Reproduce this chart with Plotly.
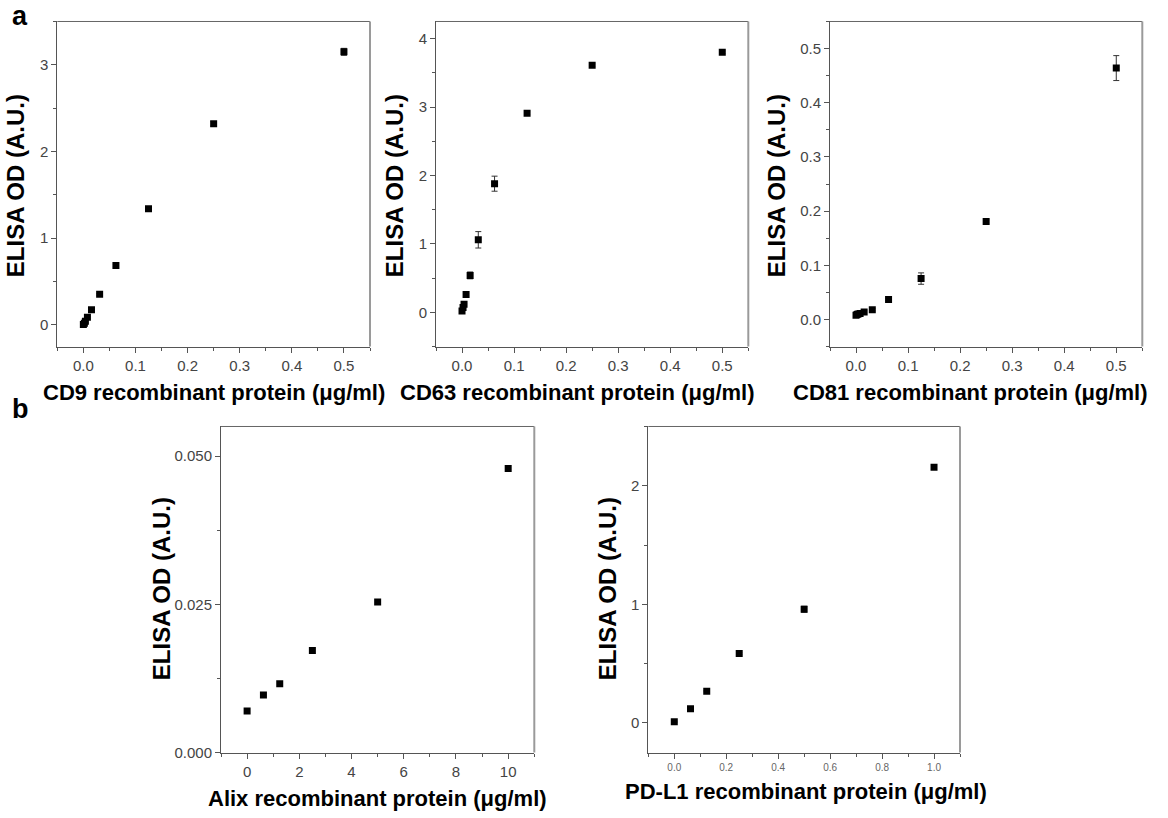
import plotly.graph_objects as go

W, H = 1168, 818

# ---- data ----
cd9_x = [0, 0.00195, 0.0039, 0.0078, 0.0156, 0.03125, 0.0625, 0.125, 0.25, 0.5]
cd9_y = [0.005, 0.02, 0.042, 0.088, 0.175, 0.353, 0.684, 1.34, 2.32, 3.15]
cd9_err = [0.01, 0.01, 0.01, 0.01, 0.01, 0.01, 0.015, 0.02, 0.025, 0.04]

cd63_x = [0, 0.00195, 0.0039, 0.0078, 0.0156, 0.03125, 0.0625, 0.125, 0.25, 0.5]
cd63_y = [0.02, 0.07, 0.12, 0.26, 0.54, 1.06, 1.88, 2.91, 3.61, 3.80]
cd63_err = [0.01, 0.01, 0.01, 0.02, 0.05, 0.12, 0.11, 0.02, 0.02, 0.02]

cd81_x = [0, 0.00195, 0.0039, 0.0078, 0.0156, 0.03125, 0.0625, 0.125, 0.25, 0.5]
cd81_y = [0.008, 0.009, 0.010, 0.011, 0.014, 0.018, 0.037, 0.0755, 0.181, 0.464]
cd81_err = [0.002, 0.002, 0.002, 0.002, 0.002, 0.002, 0.002, 0.0105, 0.003, 0.023]

alix_x = [0, 0.625, 1.25, 2.5, 5, 10]
alix_y = [0.0070, 0.0097, 0.0116, 0.0172, 0.0254, 0.0479]

pdl1_x = [0, 0.0625, 0.125, 0.25, 0.5, 1.0]
pdl1_y = [0.01, 0.12, 0.268, 0.586, 0.959, 2.156]
pdl1_err = [0.005, 0.005, 0.005, 0.01, 0.025, 0.015]

x_titles = ["CD9 recombinant protein (μg/ml)", "CD63 recombinant protein (μg/ml)",
            "CD81 recombinant protein (μg/ml)", "Alix recombinant protein (μg/ml)",
            "PD-L1 recombinant protein (μg/ml)"]
y_title = "ELISA OD (A.U.)"

FONT = "Liberation Sans, Arial, sans-serif"

def px_x(p):
    return p / W

def px_y(p):
    return 1 - p / H

panels = [
    dict(xd=(57.3, 370), yd=(21.7, 350), xr=[-0.05, 0.55], yr=[-0.25, 3.5], xdt=0.1, xmn=0.05, ydt=1, ymn=0.5, xf=".1f", yf="d", xfs=15),
    dict(xd=(436, 748.3), yd=(21.7, 350), xr=[-0.05, 0.55], yr=[-0.5, 4.25], xdt=0.1, xmn=0.05, ydt=1, ymn=0.5, xf=".1f", yf="d", xfs=15),
    dict(xd=(830, 1142.3), yd=(21.7, 350), xr=[-0.05, 0.55], yr=[-0.05, 0.55], xdt=0.1, xmn=0.05, ydt=0.1, ymn=0.05, xf=".1f", yf=".1f", xfs=15),
    dict(xd=(221, 534.3), yd=(430.7, 760), xr=[-1, 11], yr=[0, 0.055], xdt=2, xmn=1, ydt=0.025, ymn=0.0125, xf="d", yf=".3f", xfs=15),
    dict(xd=(648.3, 960), yd=(430.7, 760), xr=[-0.1, 1.1], yr=[-0.25, 2.5], xdt=0.2, xmn=0.1, ydt=1, ymn=0.5, xf=".1f", yf="d", xfs=10),
]

series = [
    (cd9_x, cd9_y, cd9_err),
    (cd63_x, cd63_y, cd63_err),
    (cd81_x, cd81_y, cd81_err),
    (alix_x, alix_y, None),
    (pdl1_x, pdl1_y, pdl1_err),
]

fig = go.Figure()
layout = dict(width=W, height=H, margin=dict(l=0, r=0, t=0, b=0),
              plot_bgcolor="white", paper_bgcolor="white", showlegend=False,
              font=dict(family=FONT))
shapes = []
annotations = []

AX_DARK = "#555555"
AX_LIGHT = "#9a9a9a"
TICK_COL = "#444444"

for i, (p, (sx, sy, se)) in enumerate(zip(panels, series)):
    n = "" if i == 0 else str(i + 1)
    xa, ya = "xaxis" + n, "yaxis" + n
    xr_, yr_ = "x" + n, "y" + n
    tr = dict(x=sx, y=sy, mode="markers", xaxis=xr_, yaxis=yr_,
              marker=dict(symbol="square", size=7, color="black"))
    if se is not None:
        tr["error_y"] = dict(type="data", array=se, visible=True, color="#333333", thickness=1, width=3)
    fig.add_trace(go.Scatter(**tr))

    layout[xa] = dict(domain=[px_x(p["xd"][0]), px_x(p["xd"][1])], range=p["xr"], anchor=yr_,
                      showgrid=False, zeroline=False, showline=True, linecolor=AX_DARK, linewidth=1,
                      ticks="outside", ticklen=5, tickcolor=AX_DARK, tickwidth=1,
                      dtick=p["xdt"], tick0=0, tickformat=p["xf"],
                      tickfont=dict(size=p["xfs"], color=TICK_COL if p["xfs"] > 12 else "#666666", family=FONT),
                      minor=dict(dtick=p["xmn"], tick0=0, ticks="outside", ticklen=3, tickcolor=AX_DARK))
    layout[ya] = dict(domain=[px_y(p["yd"][1]), px_y(p["yd"][0])], range=p["yr"], anchor=xr_,
                      showgrid=False, zeroline=False, showline=True, linecolor=AX_DARK, linewidth=1,
                      ticks="outside", ticklen=5, tickcolor=AX_DARK, tickwidth=1,
                      dtick=p["ydt"], tick0=0, tickformat=p["yf"],
                      tickfont=dict(size=15, color=TICK_COL, family=FONT),
                      minor=dict(dtick=p["ymn"], tick0=0, ticks="outside", ticklen=3, tickcolor=AX_DARK))
    shapes.append(dict(type="line", xref=xr_ + " domain", yref=yr_ + " domain", x0=0, x1=1, y0=1, y1=1,
                       line=dict(color="#666666", width=1)))
    shapes.append(dict(type="line", xref=xr_ + " domain", yref=yr_ + " domain", x0=1, x1=1, y0=0, y1=1,
                       line=dict(color=AX_LIGHT, width=2)))

# axis titles (pixel positions)
xt_pos = [(214, 396), (577, 396), (970, 396), (377, 806), (806, 799)]
yt_pos = [(15, 188), (394, 188), (776, 188), (161, 595), (607, 595)]
XTF = dict(family=FONT, size=22, color="black")
YTF = dict(family=FONT, size=24, color="black")
for t, (cx, cy) in zip(x_titles, xt_pos):
    annotations.append(dict(text="<b>%s</b>" % t, x=px_x(cx), y=px_y(cy), xref="paper", yref="paper",
                            showarrow=False, xanchor="center", yanchor="middle", font=XTF))
for (cx, cy) in yt_pos:
    annotations.append(dict(text="<b>%s</b>" % y_title, x=px_x(cx), y=px_y(cy), xref="paper", yref="paper",
                            showarrow=False, xanchor="center", yanchor="middle", textangle=-90, font=YTF))

PF = dict(family=FONT, size=27, color="black")
annotations.append(dict(text="<b>a</b>", x=px_x(20), y=px_y(16), xref="paper", yref="paper",
                        showarrow=False, xanchor="center", yanchor="middle", font=PF))
annotations.append(dict(text="<b>b</b>", x=px_x(20), y=px_y(413), xref="paper", yref="paper",
                        showarrow=False, xanchor="center", yanchor="middle", font=PF))

layout["shapes"] = shapes
layout["annotations"] = annotations
fig.update_layout(**layout)
fig.write_html("out.html", config={"displayModeBar": False},
               post_script="document.body.style.margin='0';document.body.style.overflow='hidden';")
